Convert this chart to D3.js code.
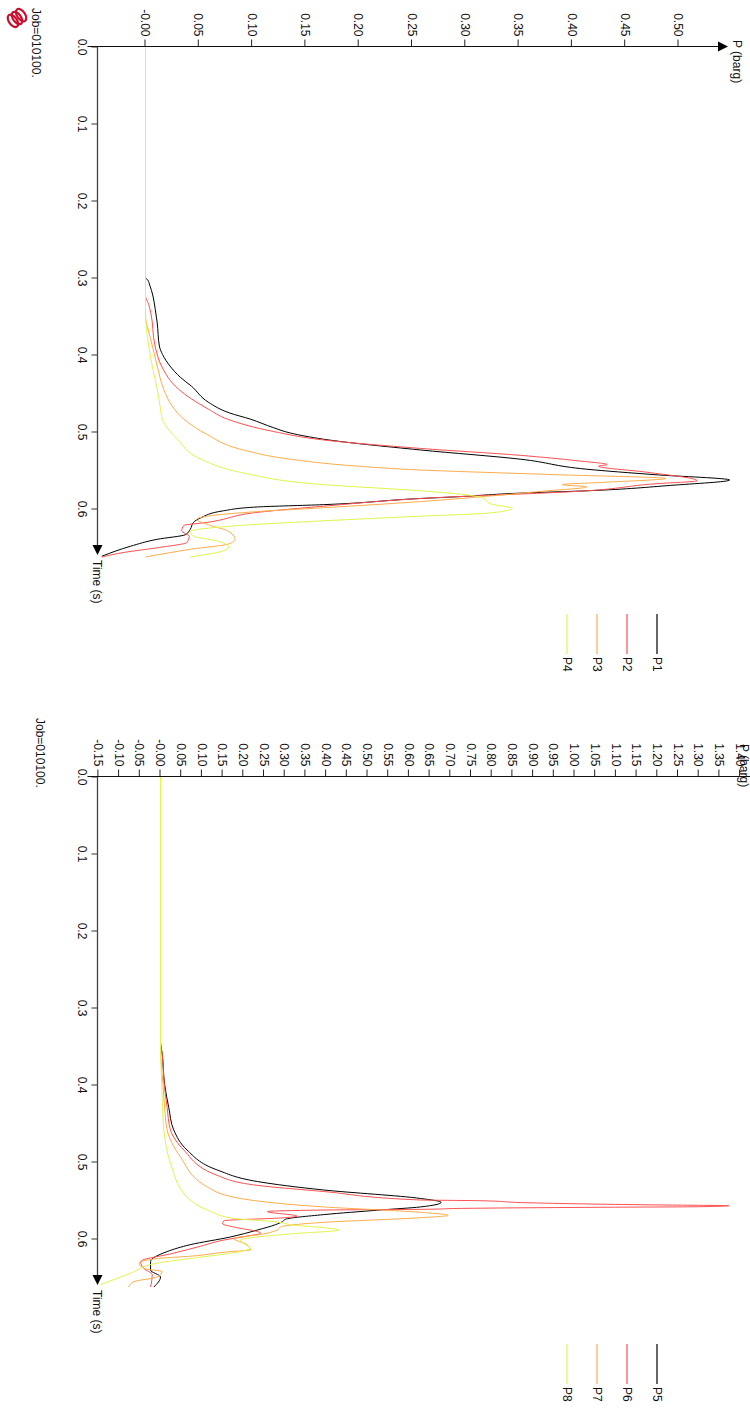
<!DOCTYPE html>
<html>
<head>
<meta charset="utf-8">
<script src="https://cdn.jsdelivr.net/npm/d3@7"></script>
<style>
  body { margin: 0; background: #fff; }
  svg { display: block; }
  text { font-family: "Liberation Sans", Arial, sans-serif; font-size: 12px; fill: #111; }
</style>
</head>
<body>
<svg id="chart" width="750" height="1411"></svg>
<script>
// ---- data (time in s, pressure in barg) ----
// top panel
const p1T = [0, 0.300, 0.303, 0.310, 0.324, 0.340, 0.359, 0.389, 0.400, 0.415, 0.430, 0.441, 0.462, 0.476, 0.484, 0.495, 0.502, 0.510, 0.524, 0.536, 0.549, 0.556, 0.563, 0.570, 0.577, 0.580, 0.585, 0.587, 0.595, 0.598, 0.603, 0.612, 0.618, 0.627, 0.634, 0.640, 0.649, 0.662]
const p1P = [0, 0, 0.002, 0.004, 0.007, 0.009, 0.011, 0.013, 0.016, 0.023, 0.033, 0.043, 0.059, 0.079, 0.0985, 0.120, 0.136, 0.167, 0.258, 0.352, 0.414, 0.477, 0.548, 0.4925, 0.414, 0.352, 0.289, 0.258, 0.167, 0.105, 0.073, 0.052, 0.045, 0.042, 0.0375, 0.011, -0.014, -0.041]
const p2T = [0, 0.324, 0.335, 0.346, 0.389, 0.415, 0.445, 0.471, 0.484, 0.500, 0.511, 0.522, 0.531, 0.538, 0.543, 0.545, 0.553, 0.564, 0.568, 0.577, 0.587, 0.597, 0.605, 0.618, 0.622, 0.629, 0.636, 0.644, 0.651, 0.657, 0.663]
const p2P = [0, 0, 0.003, 0.005, 0.009, 0.015, 0.031, 0.059, 0.077, 0.120, 0.167, 0.258, 0.352, 0.405, 0.433, 0.425, 0.471, 0.5175, 0.477, 0.414, 0.258, 0.167, 0.105, 0.058, 0.036, 0.034, 0.041, 0.039, 0.011, -0.020, -0.041]
const p3T = [0, 0.352, 0.365, 0.381, 0.415, 0.445, 0.467, 0.484, 0.504, 0.523, 0.536, 0.545, 0.550, 0.556, 0.561, 0.566, 0.569, 0.572, 0.577, 0.584, 0.591, 0.599, 0.604, 0.610, 0.614, 0.622, 0.629, 0.640, 0.646, 0.653, 0.663]
const p3P = [0, 0, 0.002, 0.005, 0.011, 0.017, 0.025, 0.036, 0.058, 0.089, 0.136, 0.199, 0.258, 0.383, 0.488, 0.430, 0.391, 0.414, 0.377, 0.321, 0.258, 0.167, 0.105, 0.058, 0.048, 0.061, 0.077, 0.084, 0.078, 0.042, 0.000]
const p4T = [0, 0.345, 0.389, 0.420, 0.445, 0.470, 0.484, 0.510, 0.536, 0.553, 0.569, 0.577, 0.583, 0.586, 0.594, 0.600, 0.606, 0.610, 0.616, 0.622, 0.630, 0.636, 0.642, 0.650, 0.655, 0.663]
const p4P = [0, 0, 0.003, 0.007, 0.011, 0.014, 0.0157, 0.030, 0.052, 0.089, 0.167, 0.258, 0.305, 0.316, 0.324, 0.344, 0.321, 0.258, 0.167, 0.089, 0.042, 0.045, 0.067, 0.078, 0.073, 0.042]

// bottom panel
const p5T = [0, 0.345, 0.360, 0.400, 0.430, 0.459, 0.485, 0.511, 0.526, 0.537, 0.548, 0.553, 0.559, 0.563, 0.569, 0.575, 0.578, 0.582, 0.589, 0.598, 0.608, 0.617, 0.630, 0.641, 0.650, 0.663]
const p5P = [0, 0, 0.004, 0.010, 0.020, 0.032, 0.064, 0.137, 0.234, 0.394, 0.628, 0.678, 0.628, 0.531, 0.394, 0.302, 0.295, 0.278, 0.234, 0.169, 0.072, 0.016, -0.024, -0.024, 0.000, -0.016]
const p6T = [0, 0.345, 0.360, 0.400, 0.430, 0.459, 0.485, 0.518, 0.531, 0.539, 0.550, 0.5509, 0.5535, 0.5552, 0.5565, 0.5574, 0.5587, 0.5595, 0.5608, 0.5621, 0.563, 0.565, 0.571, 0.573, 0.577, 0.581, 0.585, 0.593, 0.597, 0.602, 0.610, 0.619, 0.630, 0.639, 0.647, 0.663]
const p6P = [0, 0, 0.004, 0.009, 0.016, 0.024, 0.056, 0.137, 0.234, 0.394, 0.628, 0.769, 0.882, 1.035, 1.216, 1.373, 1.304, 1.047, 0.741, 0.628, 0.400, 0.258, 0.330, 0.300, 0.153, 0.150, 0.177, 0.242, 0.209, 0.153, 0.097, 0.032, -0.048, -0.040, -0.020, -0.024]
const p7T = [0, 0.350, 0.400, 0.430, 0.459, 0.494, 0.533, 0.548, 0.559, 0.566, 0.570, 0.573, 0.579, 0.585, 0.589, 0.594, 0.600, 0.608, 0.615, 0.617, 0.623, 0.626, 0.632, 0.639, 0.643, 0.650, 0.656, 0.663]
const p7P = [0, 0, 0.006, 0.010, 0.016, 0.048, 0.113, 0.193, 0.394, 0.628, 0.695, 0.628, 0.394, 0.290, 0.282, 0.250, 0.177, 0.209, 0.217, 0.169, 0.072, -0.008, -0.052, -0.040, 0.004, -0.008, -0.064, -0.077]
const p8T = [0, 0.350, 0.400, 0.430, 0.459, 0.502, 0.546, 0.563, 0.574, 0.578, 0.582, 0.589, 0.594, 0.598, 0.602, 0.608, 0.613, 0.616, 0.626, 0.632, 0.645, 0.660]
const p8P = [0, 0, 0.003, 0.005, 0.008, 0.024, 0.064, 0.113, 0.177, 0.274, 0.314, 0.431, 0.314, 0.234, 0.193, 0.205, 0.217, 0.201, 0.072, -0.008, -0.072, -0.145]

const topNames = ["P1", "P2", "P3", "P4"]
const botNames = ["P5", "P6", "P7", "P8"]
const lineColors = ["#000000", "#ff5050", "#ffad4a", "#e2f54a"]

const timeTicks = ["0.0", "0.1", "0.2", "0.3", "0.4", "0.5", "0.6"]
const topPTicks = ["-0.00", "0.05", "0.10", "0.15", "0.20", "0.25", "0.30", "0.35", "0.40", "0.45", "0.50"]
const botPTicks = ["-0.15", "-0.10", "-0.05", "-0.00", "0.05", "0.10", "0.15", "0.20", "0.25", "0.30", "0.35", "0.40",
  "0.45", "0.50", "0.55", "0.60", "0.65", "0.70", "0.75", "0.80", "0.85", "0.90", "0.95", "1.00", "1.05", "1.10",
  "1.15", "1.20", "1.25", "1.30", "1.35", "1.40"]
const jobLabel = "Job=010100."

const W = 750
const svg = d3.select("#chart")

// each panel is drawn upright in a local frame, then turned 90deg clockwise
function drawPanel(offsetY, pScale, pTicks, arrowV, series, names, pLabelPos) {
  const g = svg.append("g").attr("transform", "translate(" + W + "," + offsetY + ") rotate(90)")
  const t = d3.scaleLinear().domain([0, 0.6]).range([46.5, 46.5 + 462])
  const axisV = 652.5   // local position of the time axis
  const tEnd = 555

  // curves
  const line = d3.line().x(d => t(d[0])).y(d => pScale(d[1])).curve(d3.curveMonotoneX)
  series.forEach((s, i) => {
    g.append("path")
      .datum(d3.zip(s[0], s[1]))
      .attr("d", line)
      .attr("fill", "none")
      .attr("stroke", lineColors[i])
      .attr("stroke-width", 1)
  })

  // time axis (horizontal in local frame)
  const tAxis = g.append("g")
    .attr("transform", "translate(0," + axisV + ")")
    .call(d3.axisBottom(t).tickValues(timeTicks.map(Number)).tickFormat((d, i) => timeTicks[i])
      .tickSize(6).tickPadding(5))
  tAxis.select(".domain").remove()
  tAxis.selectAll("line").attr("stroke", "#333")
  g.append("line").attr("x1", 46.5).attr("x2", tEnd - 8).attr("y1", axisV).attr("y2", axisV)
    .attr("stroke", "#444").attr("stroke-width", 1.3)
  g.append("path").attr("d", `M${tEnd},${axisV} l-10,-5 l0,10 z`).attr("fill", "#000")
  g.append("text").attr("x", tEnd + 5).attr("y", axisV).attr("dy", "0.35em").text("Time (s)")

  // pressure axis (vertical in local frame)
  const pAxis = g.append("g")
    .attr("transform", "translate(46.5,0)")
    .call(d3.axisLeft(pScale).tickValues(pTicks.map(Number)).tickFormat((d, i) => pTicks[i])
      .tickSize(7).tickPadding(3))
  pAxis.select(".domain").remove()
  pAxis.selectAll("line").attr("stroke", "#222")
  g.append("line").attr("x1", 46.5).attr("x2", 46.5).attr("y1", axisV + 10).attr("y2", arrowV + 8)
    .attr("stroke", "#111")
  g.append("path").attr("d", `M46.5,${arrowV} l-5,10 l10,0 z`).attr("fill", "#000")
  g.append("text").attr("x", pLabelPos[0]).attr("y", pLabelPos[1]).attr("dy", "0.35em").text("P (barg)")

  // legend
  names.forEach((n, i) => {
    const v = 93 + 30 * i
    g.append("line").attr("x1", 614).attr("x2", 654).attr("y1", v).attr("y2", v)
      .attr("stroke", lineColors[i]).attr("stroke-width", 1.2)
    g.append("text").attr("x", 657).attr("y", v).attr("dy", "0.35em").text(n)
  })
  return g
}

const pTop = d3.scaleLinear().domain([0, 0.5]).range([604.5, 71.5])
const gTop = drawPanel(0, pTop, topPTicks, 22,
  [[p1T, p1P], [p2T, p2P], [p3T, p3P], [p4T, p4P]], topNames, [40, 13])
gTop.append("text").attr("x", 8).attr("y", 714).attr("dy", "0.35em").text(jobLabel)

const pBot = d3.scaleLinear().domain([0, 1.4]).range([589.5, 589.5 - 1.4 * 414])
const gBot = drawPanel(730, pBot, botPTicks, -10,
  [[p5T, p5P], [p6T, p6P], [p7T, p7P], [p8T, p8P]], botNames, [14, 6])
gBot.append("text").attr("x", -12).attr("y", 710).attr("dy", "0.35em").text(jobLabel)

// small red logo in the top left corner
const logo = svg.append("g").attr("transform", "translate(17,18) rotate(-35)")
  .attr("fill", "none").attr("stroke", "#c8102e").attr("stroke-width", 2.2)
;[-5, 0, 5].forEach(dx => {
  logo.append("ellipse").attr("cx", dx).attr("cy", 0).attr("rx", 4).attr("ry", 7)
})
</script>
</body>
</html>
